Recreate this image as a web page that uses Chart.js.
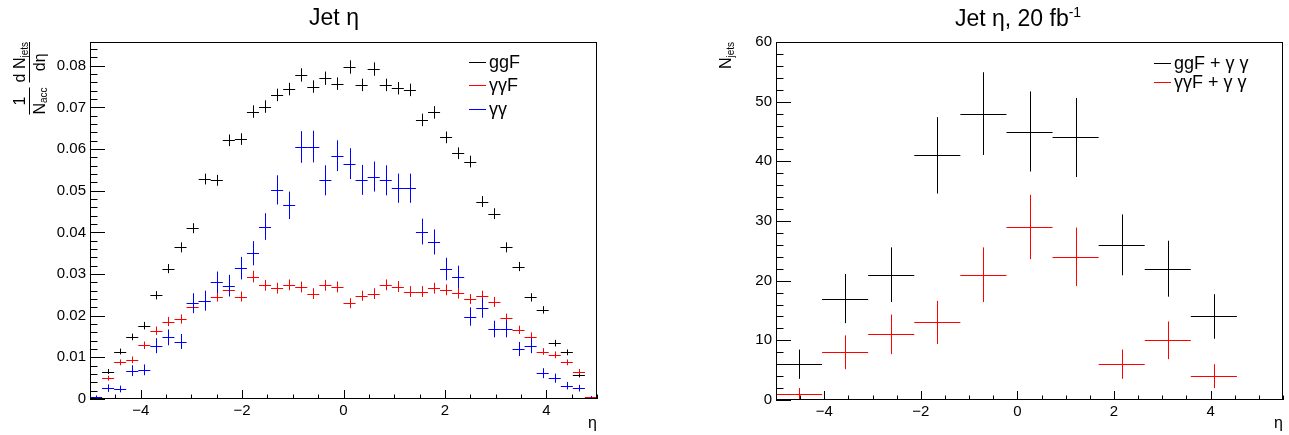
<!DOCTYPE html>
<html>
<head>
<meta charset="utf-8">
<script src="https://cdn.jsdelivr.net/npm/chart.js@4.4.0/dist/chart.umd.min.js"></script>
<style>
html, body { margin: 0; padding: 0; background: #fff; }
#wrap { position: relative; width: 1289px; height: 435px; }
.pane { position: absolute; top: 0; height: 435px; }
#p1 { left: 0; width: 645px; }
#p2 { left: 645px; width: 644px; }
</style>
</head>
<body>
<div id="wrap">
  <div class="pane" id="p1"><canvas id="c1" width="645" height="435"></canvas></div>
  <div class="pane" id="p2"><canvas id="c2" width="644" height="435"></canvas></div>
</div>
<script>
const FONT = '"Liberation Sans", Arial, Helvetica, sans-serif';

// left pad: normalised jet eta, 42 bins in [-5, 5]
const etaBins = 42, etaLo = -5, etaHi = 5;
const ggF = [0.0004, 0.0066, 0.0114, 0.0149, 0.0176, 0.0249, 0.0313, 0.0364, 0.0410, 0.0528,
             0.0525, 0.0621, 0.0624, 0.0690, 0.0702, 0.0730, 0.0744, 0.0778, 0.0750, 0.0770,
             0.0757, 0.0797, 0.0754, 0.0792, 0.0754, 0.0746, 0.0742, 0.0670, 0.0688, 0.0628,
             0.0590, 0.0570, 0.0474, 0.0445, 0.0364, 0.0318, 0.0244, 0.0214, 0.0134, 0.0112,
             0.0058, 0.0004];
const ggFErr = [0.0002, 0.0006, 0.0007, 0.0008, 0.0009, 0.0010, 0.0011, 0.0012, 0.0012, 0.0013,
                0.0013, 0.0014, 0.0014, 0.0015, 0.0015, 0.0015, 0.0015, 0.0016, 0.0015, 0.0016,
                0.0015, 0.0016, 0.0015, 0.0016, 0.0015, 0.0015, 0.0015, 0.0015, 0.0015, 0.0014,
                0.0014, 0.0014, 0.0013, 0.0013, 0.0012, 0.0011, 0.0010, 0.0009, 0.0008, 0.0007,
                0.0006, 0.0002];
const aaF = [0.0006, 0.0050, 0.0088, 0.0094, 0.0129, 0.0164, 0.0186, 0.0192, 0.0222, 0.0236,
             0.0246, 0.0261, 0.0246, 0.0294, 0.0273, 0.0266, 0.0274, 0.0269, 0.0253, 0.0273,
             0.0269, 0.0230, 0.0248, 0.0253, 0.0274, 0.0270, 0.0258, 0.0258, 0.0266, 0.0262,
             0.0254, 0.0240, 0.0248, 0.0233, 0.0194, 0.0166, 0.0150, 0.0114, 0.0106, 0.0088,
             0.0066, 0.0005];
const aaFErr = [0.0002, 0.0006, 0.0007, 0.0008, 0.0009, 0.0010, 0.0011, 0.0011, 0.0012, 0.0012,
                0.0012, 0.0013, 0.0012, 0.0014, 0.0013, 0.0013, 0.0013, 0.0013, 0.0013, 0.0013,
                0.0013, 0.0012, 0.0012, 0.0013, 0.0013, 0.0013, 0.0013, 0.0013, 0.0013, 0.0013,
                0.0013, 0.0012, 0.0012, 0.0012, 0.0011, 0.0010, 0.0010, 0.0008, 0.0008, 0.0007,
                0.0006, 0.0002];
const aa = [0.0005, 0.0026, 0.0024, 0.0068, 0.0070, 0.0128, 0.0148, 0.0138, 0.0230, 0.0236,
            0.0280, 0.0272, 0.0314, 0.0350, 0.0414, 0.0502, 0.0465, 0.0605, 0.0606, 0.0525,
            0.0584, 0.0565, 0.0526, 0.0534, 0.0525, 0.0506, 0.0506, 0.0402, 0.0377, 0.0312,
            0.0293, 0.0198, 0.0218, 0.0168, 0.0168, 0.0120, 0.0128, 0.0062, 0.0050, 0.0032,
            0.0026, 0.0003];
const aaErr = [0.0003, 0.0009, 0.0008, 0.0013, 0.0013, 0.0018, 0.0019, 0.0018, 0.0024, 0.0024,
               0.0026, 0.0026, 0.0027, 0.0029, 0.0032, 0.0035, 0.0033, 0.0038, 0.0038, 0.0036,
               0.0037, 0.0037, 0.0036, 0.0036, 0.0036, 0.0035, 0.0035, 0.0031, 0.0030, 0.0027,
               0.0027, 0.0022, 0.0023, 0.0020, 0.0020, 0.0017, 0.0018, 0.0012, 0.0011, 0.0009,
               0.0008, 0.0003];

// right pad: jet counts for 20 fb-1, 11 bins in [-5, 5.5]
const lumBins = 11, lumLo = -5, lumHi = 5.5;
const ggFaa    = [6, 17, 21, 41, 48, 45, 44, 26, 22, 14, 0];
const ggFaaErr = [2.45, 4.12, 4.58, 6.40, 6.93, 6.71, 6.63, 5.10, 4.69, 3.74, 0];
const aaFaa    = [1, 8, 11, 13, 21, 29, 24, 6, 10, 4, 0];
const aaFaaErr = [1.00, 2.83, 3.32, 3.61, 4.58, 5.39, 4.90, 2.45, 3.16, 2.00, 0];

// axis labels
const etaTicks = [-4, -2, 0, 2, 4];
const normTicks = [0, 0.01, 0.02, 0.03, 0.04, 0.05, 0.06, 0.07, 0.08];
const countTicks = [0, 10, 20, 30, 40, 50, 60];

function histPoints(nb, lo, hi, vals, errs) {
  const w = (hi - lo) / nb;
  const pts = [];
  vals.forEach((v, i) => {
    if (v > 0) pts.push({x: lo + (i + 0.5) * w, y: v, xe: w / 2, ye: errs[i]});
  });
  return pts;
}

function pw(ctx, parts) {
  let w = 0;
  parts.forEach(p => { ctx.font = p.f + 'px ' + FONT; w += ctx.measureText(p.t).width; });
  return w;
}
function drawParts(ctx, parts, x, y) {
  parts.forEach(p => {
    ctx.font = p.f + 'px ' + FONT;
    ctx.fillText(p.t, x, y + (p.dy || 0));
    x += ctx.measureText(p.t).width;
  });
}

const rootStyle = {
  id: 'rootStyle',
  afterDatasetsDraw(chart, args, o) {
    const {ctx, chartArea: a, scales: {x, y}} = chart;
    // error crosses
    ctx.save();
    ctx.beginPath();
    ctx.rect(a.left, a.top, a.right - a.left, a.bottom - a.top);
    ctx.clip();
    ctx.lineWidth = 1;
    chart.data.datasets.forEach(ds => {
      ctx.strokeStyle = ds.borderColor;
      ctx.beginPath();
      ds.data.forEach(p => {
        const cx = Math.round(x.getPixelForValue(p.x)) + 0.5;
        const cy = Math.round(y.getPixelForValue(p.y)) + 0.5;
        ctx.moveTo(x.getPixelForValue(p.x - p.xe), cy);
        ctx.lineTo(x.getPixelForValue(p.x + p.xe), cy);
        ctx.moveTo(cx, y.getPixelForValue(p.y - p.ye));
        ctx.lineTo(cx, y.getPixelForValue(p.y + p.ye));
      });
      ctx.stroke();
    });
    ctx.restore();

    // frame + ticks inside
    ctx.save();
    ctx.strokeStyle = '#000';
    ctx.lineWidth = 1;
    ctx.strokeRect(a.left + 0.5, a.top + 0.5, a.right - a.left - 1, a.bottom - a.top - 1);
    ctx.beginPath();
    for (let v = y.min; v <= y.max + 1e-9; v += o.yMinor) {
      const py = Math.round(y.getPixelForValue(v)) + 0.5;
      const major = o.yMajor.some(m => Math.abs(m - v) < o.yMinor / 10);
      ctx.moveTo(a.left, py);
      ctx.lineTo(a.left + (major ? 15 : 7.5), py);
    }
    for (let v = Math.ceil(x.min / o.xMinor) * o.xMinor; v <= x.max + 1e-9; v += o.xMinor) {
      const px = Math.round(x.getPixelForValue(v)) + 0.5;
      const major = o.xMajor.some(m => Math.abs(m - v) < 1e-6);
      ctx.moveTo(px, a.bottom);
      ctx.lineTo(px, a.bottom - (major ? 9 : 4.5));
    }
    ctx.stroke();
    ctx.restore();
  },
  afterDraw(chart, args, o) {
    const {ctx, chartArea: a} = chart;
    ctx.save();
    ctx.fillStyle = '#000';
    ctx.textBaseline = 'alphabetic';

    // title
    const tw = pw(ctx, o.title);
    drawParts(ctx, o.title, o.titleX - tw / 2, o.titleY);

    // x title
    ctx.font = '16px ' + FONT;
    ctx.textAlign = 'right';
    ctx.fillText('η', a.right, 428);
    ctx.textAlign = 'left';

    // y title (rotated, aligned to the top of the frame)
    ctx.save();
    ctx.rotate(-Math.PI / 2);
    const uEnd = -a.top;
    if (o.yTitle === 'frac') {
      const num1 = [{t: '1', f: 16}], den1 = [{t: 'N', f: 16}, {t: 'acc', f: 10, dy: 2}];
      const num2 = [{t: 'd N', f: 16}, {t: 'jets', f: 10, dy: 3}], den2 = [{t: 'dη', f: 16}];
      const w1 = Math.max(pw(ctx, num1), pw(ctx, den1));
      const w2 = Math.max(pw(ctx, num2), pw(ctx, den2));
      const u2 = uEnd - w2, u1 = u2 - 5 - w1;
      const frac = (u, w, n, d) => {
        drawParts(ctx, n, u + (w - pw(ctx, n)) / 2, 25);
        drawParts(ctx, d, u + (w - pw(ctx, d)) / 2, 45);
        ctx.fillRect(u, 29, w, 1);
      };
      frac(u1, w1, num1, den1);
      frac(u2, w2, num2, den2);
    } else {
      const t = [{t: 'N', f: 16}, {t: 'jets', f: 10, dy: 3}];
      drawParts(ctx, t, uEnd - pw(ctx, t), o.yTitleV);
    }
    ctx.restore();

    // legend
    const L = o.legend;
    chart.data.datasets.forEach((ds, i) => {
      const ly = Math.round(L.y0 + i * L.dy) + 0.5;
      ctx.strokeStyle = ds.borderColor;
      ctx.lineWidth = 1;
      ctx.beginPath();
      ctx.moveTo(L.x, ly);
      ctx.lineTo(L.x + L.len, ly);
      ctx.stroke();
      ctx.font = L.font + 'px ' + FONT;
      ctx.textBaseline = 'middle';
      ctx.fillStyle = '#000';
      ctx.fillText(ds.label, L.x + L.len + 3, ly + 1);
    });
    ctx.restore();
  }
};

function scaleOpts(lo, hi, ticks, fmt, size, pad) {
  return {
    type: 'linear', min: lo, max: hi,
    grid: {display: false, drawTicks: false},
    border: {display: false},
    afterBuildTicks: s => { s.ticks = ticks.map(v => ({value: v})); },
    afterFit: s => { if (s.isHorizontal()) s.height = size; else s.width = size; },
    ticks: {
      padding: pad, color: '#000', autoSkip: false, maxRotation: 0,
      font: {size: 15, family: FONT},
      callback: fmt
    }
  };
}
const etaFmt = v => (v < 0 ? '\u2212' + Math.abs(v) : String(v));

const baseOpts = {
  responsive: false,
  animation: false,
  events: [],
  elements: {point: {radius: 0}},
};

new Chart(document.getElementById('c1'), {
  type: 'scatter',
  data: {
    datasets: [
      {label: 'ggF', data: histPoints(etaBins, etaLo, etaHi, ggF, ggFErr), borderColor: '#000000'},
      {label: 'γγF', data: histPoints(etaBins, etaLo, etaHi, aaF, aaFErr), borderColor: '#ff0000'},
      {label: 'γγ', data: histPoints(etaBins, etaLo, etaHi, aa, aaErr), borderColor: '#0000ff'}
    ]
  },
  options: Object.assign({}, baseOpts, {
    layout: {padding: {left: 0, right: 48, top: 42, bottom: 0}},
    scales: {
      x: scaleOpts(etaLo, etaHi, etaTicks, etaFmt, 36, 3),
      y: scaleOpts(0, 0.0857, normTicks, v => (v === 0 ? '0' : v.toFixed(2)), 90, 4)
    },
    plugins: {
      legend: {display: false},
      tooltip: {enabled: false},
      rootStyle: {
        title: [{t: 'Jet η', f: 23}], titleX: 334, titleY: 25,
        yTitle: 'frac',
        yMajor: normTicks, yMinor: 0.002, xMajor: etaTicks, xMinor: 0.5,
        legend: {x: 469, y0: 62, dy: 23.3, len: 17, font: 18}
      }
    }
  }),
  plugins: [rootStyle]
});

new Chart(document.getElementById('c2'), {
  type: 'scatter',
  data: {
    datasets: [
      {label: 'ggF + γ γ', data: histPoints(lumBins, lumLo, lumHi, ggFaa, ggFaaErr), borderColor: '#000000'},
      {label: 'γγF + γ γ', data: histPoints(lumBins, lumLo, lumHi, aaFaa, aaFaaErr), borderColor: '#ff0000'}
    ]
  },
  options: Object.assign({}, baseOpts, {
    layout: {padding: {left: 0, right: 6, top: 42, bottom: 0}},
    scales: {
      x: scaleOpts(lumLo, lumHi, etaTicks, etaFmt, 35, 3),
      y: scaleOpts(0, 60, countTicks, v => String(v), 131, 4)
    },
    plugins: {
      legend: {display: false},
      tooltip: {enabled: false},
      rootStyle: {
        title: [{t: 'Jet η, 20 fb', f: 23}, {t: '-1', f: 14, dy: -9}], titleX: 373, titleY: 26,
        yTitle: 'n', yTitleV: 86,
        yMajor: countTicks, yMinor: 2, xMajor: etaTicks, xMinor: 0.5,
        legend: {x: 509, y0: 63, dy: 18.5, len: 17, font: 18}
      }
    }
  }),
  plugins: [rootStyle]
});
</script>
</body>
</html>
